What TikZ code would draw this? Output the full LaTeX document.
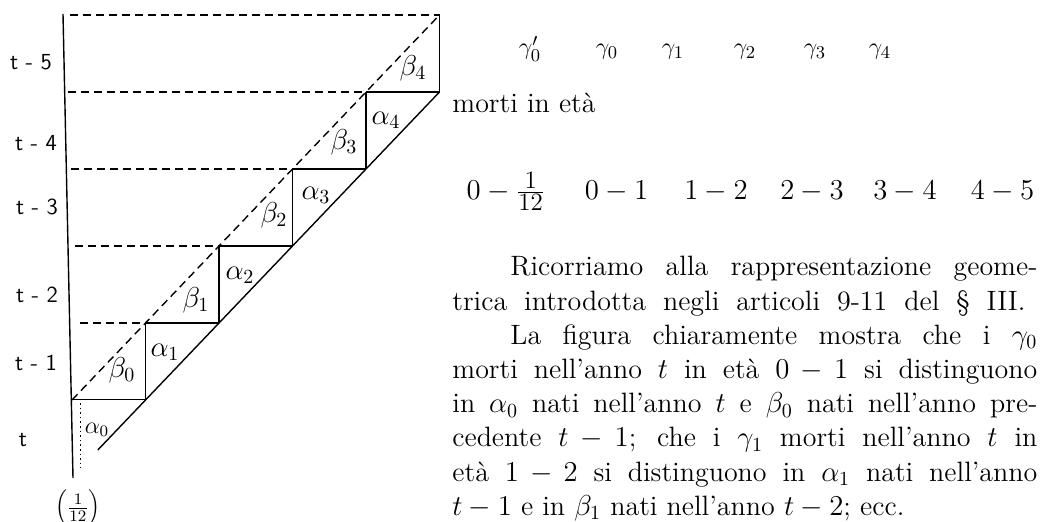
\documentclass[tikz,border=0pt]{standalone}
\usepackage{fontspec}
\begin{document}
\begin{tikzpicture}[x=0.5pt,y=-0.5pt,
  ln/.style={line width=0.7pt, black},
  thin ln/.style={line width=0.5pt, black},
  dsh/.style={line width=0.7pt, black, dash pattern=on 4pt off 2.5pt},
  dotln/.style={line width=0.5pt, black, dash pattern=on 0.8pt off 1.5pt},
  yr/.style={font=\sffamily\fontsize{11.5}{13}\selectfont, inner sep=0},
  cell/.style={font=\fontsize{14}{16}\selectfont, inner sep=0},
  gam/.style={font=\fontsize{13}{15}\selectfont, inner sep=0, anchor=base},
  ages/.style={font=\fontsize{15}{18}\selectfont, inner sep=0, anchor=base},
  body/.style={font=\fontsize{14}{17.1}\selectfont, inner sep=0}]
\useasboundingbox (0,0) rectangle (1040,522);
% grid points
\coordinate (P00) at (72,400);
\coordinate (P11) at (145.5,323);
\coordinate (P22) at (219,246);
\coordinate (P33) at (292.5,169);
\coordinate (P44) at (366,92);
\coordinate (P55) at (439.5,15);
\coordinate (P10) at (145.5,400);
\coordinate (P21) at (219,323);
\coordinate (P32) at (292.5,246);
\coordinate (P43) at (366,169);
\coordinate (P54) at (439.5,92);
\coordinate (E) at (97.8,450);
\coordinate (Ltop) at (63,14);
\coordinate (Lbot) at (73,478);
\coordinate (D5) at (70,15);
\coordinate (D4) at (68,92);
\coordinate (D3) at (71,169);
\coordinate (D2) at (75,246);
\coordinate (D1) at (80,323);
\coordinate (Vt) at (80,403);
\coordinate (Vb) at (80,468);
% lines
\draw[ln] (Ltop) -- (Lbot);
\draw[dsh] (P00) -- (P55);
\draw[ln] (P54) -- (E);
\draw[dsh] (D5) -- (P55);
\draw[dsh] (D4) -- (P44);
\draw[dsh] (D3) -- (P33);
\draw[dsh] (D2) -- (P22);
\draw[dsh] (D1) -- (P11);
\draw[thin ln] (P00) -- (P10);
\draw[ln] (P11) -- (P21);
\draw[ln] (P22) -- (P32);
\draw[ln] (P33) -- (P43);
\draw[ln] (P44) -- (P54);
\draw[ln] (P10) -- (P11);
\draw[ln] (P21) -- (P22);
\draw[ln] (P32) -- (P33);
\draw[ln] (P43) -- (P44);
\draw[ln] (P54) -- (P55);
\draw[dotln] (Vt) -- (Vb);
% year labels
\node[yr] (y5) at (31,62) {t - 5};
\node[yr] (y4) at (36,143) {t - 4};
\node[yr] (y3) at (37,207) {t - 3};
\node[yr] (y2) at (37,295) {t - 2};
\node[yr] (y1) at (36,363) {t - 1};
\node[yr] (y0) at (23,440) {t};
\node[font=\fontsize{11}{13}\selectfont, inner sep=0] (frac) at (78,508) {$\left(\frac{1}{12}\right)$};
% cell labels
\node[cell] (b4) at (413,68) {$\beta_4$};
\node[cell] (a4) at (386,120) {$\alpha_4$};
\node[cell] (b3) at (344,142) {$\beta_3$};
\node[cell] (a3) at (316,195) {$\alpha_3$};
\node[cell] (b2) at (274,215) {$\beta_2$};
\node[cell] (a2) at (240,275) {$\alpha_2$};
\node[cell] (b1) at (196,300) {$\beta_1$};
\node[cell] (a1) at (165,352) {$\alpha_1$};
\node[cell] (b0) at (122,370) {$\beta_0$};
\node[cell, font=\fontsize{12}{14}\selectfont] (a0) at (97,430) {$\alpha_0$};
% gamma row
\node[gam] (g0p) at (530,55) {$\gamma'_0$};
\node[gam] (g0) at (607,55) {$\gamma_0$};
\node[gam] (g1) at (673,55) {$\gamma_1$};
\node[gam] (g2) at (745,55) {$\gamma_2$};
\node[gam] (g3) at (815,55) {$\gamma_3$};
\node[gam] (g4) at (880,55) {$\gamma_4$};
\node[body, anchor=base west] (morti) at (452,113) {morti in età};
% ages row
\node[ages] (e0) at (506,200) {$0-\frac{\hbox{\fontsize{12.5}{12.5}\selectfont 1}}{\hbox{\fontsize{12.5}{12.5}\selectfont 12}}$};
\node[ages] (e1) at (616.5,200) {$0-1$};
\node[ages] (e2) at (716,200) {$1-2$};
\node[ages] (e3) at (812,200) {$2-3$};
\node[ages] (e4) at (905,200) {$3-4$};
\node[ages] (e5) at (1002.5,200) {$4-5$};
% paragraph
\node[body, anchor=base west] (para) at (452,276) {\vtop{\hsize=292.5pt\baselineskip=17.1pt
\hbox to 292.5pt{\hskip29pt Ricorriamo alla rappresentazione geome-}
\hbox to 286.5pt{trica introdotta negli articoli 9-11 del \S{} III.}
\hbox to 292.5pt{\hskip29pt La figura chiaramente mostra che i $\gamma_0$}
\hbox to 292.5pt{morti nell'anno $t$ in età $0-1$ si distinguono}
\hbox to 292.5pt{in $\alpha_0$ nati nell'anno $t$ e $\beta_0$ nati nell'anno pre-}
\hbox to 292.5pt{cedente $t-1$; che i $\gamma_1$ morti nell'anno $t$ in}
\hbox to 292.5pt{età $1-2$ si distinguono in $\alpha_1$ nati nell'anno}
\hbox{$t-1$ e in $\beta_1$ nati nell'anno $t-2$; ecc.}}};
\end{tikzpicture}
\end{document}
